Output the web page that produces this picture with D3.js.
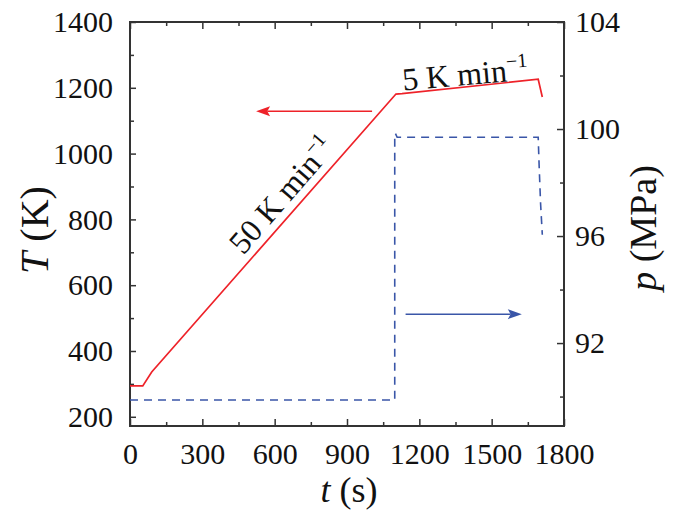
<!DOCTYPE html>
<html>
<head>
<meta charset="utf-8">
<script src="https://cdn.jsdelivr.net/npm/d3@7"></script>
<style>
    html, body { margin: 0; padding: 0; background: #fff; }
    text { font-family: "Liberation Serif", "Times New Roman", serif; fill: #111; }
</style>
</head>
<body>
<svg id="chart" width="681" height="510"></svg>
<script>
// Temperature trace (left axis)
const tempTime = [0, 53, 90, 1103, 1128, 1693, 1710];
const tempValues = [294, 294, 336, 1181, 1182, 1226, 1172];

// Pressure trace (right axis)
const presTime = [0, 1098, 1098, 1101, 1108, 1693, 1697, 1703, 1710];
const presValues = [89.87, 89.87, 99.83, 99.83, 99.69, 99.69, 98.6, 97.2, 96.05];

// Tick values
const timeTicks = [0, 300, 600, 900, 1200, 1500, 1800];
const timeMinor = [150, 450, 750, 1050, 1350, 1650];
const tempTicks = [200, 400, 600, 800, 1000, 1200, 1400];
const tempMinor = [300, 500, 700, 900, 1100, 1300];
const presTicks = [92, 96, 100, 104];
const presMinor = [90, 94, 98, 102];

// Annotation arrows [t start, t end, value]
const redArrow = [1004, 523, 1129];
const blueArrow = [1143, 1625, 93.08];

const margin = { top: 22, left: 130, right: 117, bottom: 84 };
const width = 681 - margin.left - margin.right;
const height = 510 - margin.top - margin.bottom;

const RED = '#ee2229';
const BLUE = '#3a56a8';
const AXIS = '#333';

const svg = d3.select('#chart');
const g = svg.append('g').attr('transform', `translate(${margin.left},${margin.top})`);

const x = d3.scaleLinear().domain([0, 1800]).range([0, width]);
const yT = d3.scaleLinear().domain([172, 1400]).range([height, 0]);
const yP = d3.scaleLinear().domain([88.9, 104]).range([height, 0]);

const fmt = d3.format('d');

function styleAxis(sel) {
    sel.select('.domain').remove();
    sel.selectAll('line').attr('stroke', AXIS).attr('stroke-width', 1.5);
    sel.selectAll('text').style('font-size', '30px').attr('fill', '#111');
}

// Major axes
g.append('g').attr('transform', `translate(0,${height})`)
    .call(d3.axisBottom(x).tickValues(timeTicks).tickFormat(fmt).tickSizeInner(-7).tickSizeOuter(0).tickPadding(17))
    .call(styleAxis);
g.append('g')
    .call(d3.axisTop(x).tickValues(timeTicks).tickSizeInner(-7).tickSizeOuter(0).tickFormat(''))
    .call(styleAxis);
g.append('g')
    .call(d3.axisLeft(yT).tickValues(tempTicks).tickFormat(fmt).tickSizeInner(-6).tickSizeOuter(0).tickPadding(17))
    .call(styleAxis);
g.append('g').attr('transform', `translate(${width},0)`)
    .call(d3.axisRight(yP).tickValues(presTicks).tickFormat(fmt).tickSizeInner(-7).tickSizeOuter(0).tickPadding(11))
    .call(styleAxis);

// Minor ticks
g.append('g').attr('transform', `translate(0,${height})`)
    .call(d3.axisBottom(x).tickValues(timeMinor).tickSizeInner(-4).tickSizeOuter(0).tickFormat(''))
    .call(styleAxis);
g.append('g')
    .call(d3.axisTop(x).tickValues(timeMinor).tickSizeInner(-4).tickSizeOuter(0).tickFormat(''))
    .call(styleAxis);
g.append('g')
    .call(d3.axisLeft(yT).tickValues(tempMinor).tickSizeInner(-4).tickSizeOuter(0).tickFormat(''))
    .call(styleAxis);
g.append('g').attr('transform', `translate(${width},0)`)
    .call(d3.axisRight(yP).tickValues(presMinor).tickSizeInner(-4).tickSizeOuter(0).tickFormat(''))
    .call(styleAxis);

// Frame
g.append('rect')
    .attr('width', width)
    .attr('height', height)
    .attr('fill', 'none')
    .attr('stroke', AXIS)
    .attr('stroke-width', 2);

// Data lines
const tempLine = d3.line().x(d => x(d[0])).y(d => yT(d[1]));
const presLine = d3.line().x(d => x(d[0])).y(d => yP(d[1]));

g.append('path')
    .datum(d3.zip(presTime, presValues))
    .attr('d', presLine)
    .attr('fill', 'none')
    .attr('stroke', BLUE)
    .attr('stroke-width', 1.6)
    .attr('stroke-dasharray', '8,6');

g.append('path')
    .datum(d3.zip(tempTime, tempValues))
    .attr('d', tempLine)
    .attr('fill', 'none')
    .attr('stroke', RED)
    .attr('stroke-width', 1.7);

// Arrows
function drawArrow(x1, x2, yy, color) {
    const dir = Math.sign(x2 - x1);
    const headLen = 14, headHalf = 5;
    g.append('line')
        .attr('x1', x1).attr('x2', x2 - dir * headLen * 0.8)
        .attr('y1', yy).attr('y2', yy)
        .attr('stroke', color)
        .attr('stroke-width', 1.5);
    const p = d3.path();
    p.moveTo(x2, yy);
    p.lineTo(x2 - dir * headLen, yy - headHalf);
    p.lineTo(x2 - dir * headLen * 0.8, yy);
    p.lineTo(x2 - dir * headLen, yy + headHalf);
    p.closePath();
    g.append('path').attr('d', p.toString()).attr('fill', color);
}
drawArrow(x(redArrow[0]), x(redArrow[1]), yT(redArrow[2]), RED);
drawArrow(x(blueArrow[0]), x(blueArrow[1]), yP(blueArrow[2]), BLUE);

// Rate labels
function rateLabel(text, cx, cy, angle) {
    const t = svg.append('text')
        .attr('transform', `translate(${cx},${cy}) rotate(${angle})`)
        .attr('text-anchor', 'middle')
        .style('font-size', '32px');
    t.append('tspan').text(text);
    t.append('tspan').text('\u22121')
        .attr('dy', -13)
        .style('font-size', '20px');
}
rateLabel('50 K min', 290, 202, -49);
rateLabel('5 K min', 466, 85, -5);

// Axis titles
const xTitle = svg.append('text')
    .attr('x', margin.left + width / 2 + 2)
    .attr('y', 502)
    .attr('text-anchor', 'middle')
    .style('font-size', '36px');
xTitle.append('tspan').text('t').style('font-style', 'italic');
xTitle.append('tspan').text(' (s)');

const yTitle = svg.append('text')
    .attr('transform', `translate(48,${margin.top + height / 2 + 6}) rotate(-90)`)
    .attr('text-anchor', 'middle')
    .style('font-size', '40px');
yTitle.append('tspan').text('T').style('font-style', 'italic');
yTitle.append('tspan').text(' (K)');

const pTitle = svg.append('text')
    .attr('transform', `translate(656,${margin.top + height / 2 + 4}) rotate(-90)`)
    .attr('text-anchor', 'middle')
    .style('font-size', '38px');
pTitle.append('tspan').text('p').style('font-style', 'italic');
pTitle.append('tspan').text(' (MPa)');
</script>
</body>
</html>
